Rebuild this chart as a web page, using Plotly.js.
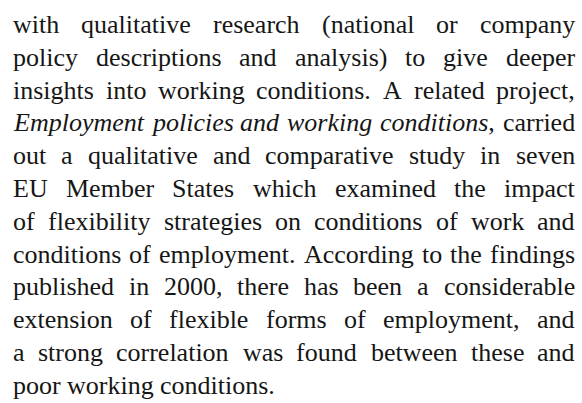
<!DOCTYPE html>
<html>
<head>
<meta charset="utf-8">
<script src="https://cdn.plot.ly/plotly-3.0.1.min.js"></script>
<style>html,body{margin:0;padding:0;background:#fff;}#chart{width:582px;height:403px;}</style>
</head>
<body>
<div id="chart"></div>
<script>
// Paragraph content (one entry per printed line)
const paragraphLines = [
  "with qualitative research (national or company",
  "policy descriptions and analysis) to give deeper",
  "insights into working conditions. A related project,",
  "Employment policies and working conditions, carried",
  "out a qualitative and comparative study in seven",
  "EU Member States which examined the impact",
  "of flexibility strategies on conditions of work and",
  "conditions of employment. According to the findings",
  "published in 2000, there has been a considerable",
  "extension of flexible forms of employment, and",
  "a strong correlation was found between these and",
  "poor working conditions."
];
// Italic words: line index -> number of leading italic words (trailing punctuation stays upright)
const italicLineIndex = [3];
const italicWordCount = [5];

const W = 582, H = 403;
const FONT_FAMILY = "Liberation Serif";
const FONT_SIZE = 26;
const LEFT = 12, RIGHT = 574;
const FIRST_BASELINE = 33, LINE_STEP = 32.8;
const TEXT_COLOR = "#161616";

const canvas = document.createElement("canvas");
const ctx = canvas.getContext("2d");
function setFont(italic) {
  ctx.font = (italic ? "italic " : "") + FONT_SIZE + "px '" + FONT_FAMILY + "'";
}
function splitPunct(w) {
  const m = w.match(/^(.*?)([,.;:]*)$/);
  return [m[1], m[2]];
}
function measure(word, italic) {
  if (!italic) { setFont(false); return ctx.measureText(word).width; }
  const [core, punct] = splitPunct(word);
  setFont(true); const a = ctx.measureText(core).width;
  setFont(false); const b = ctx.measureText(punct).width;
  return a + b;
}
setFont(false);
const spaceW = ctx.measureText(" ").width;

const annotations = [];
paragraphLines.forEach((line, li) => {
  const words = line.split(" ");
  const k = italicLineIndex.indexOf(li);
  const nItal = k >= 0 ? italicWordCount[k] : 0;
  const widths = words.map((w, wi) => measure(w, wi < nItal));
  const total = widths.reduce((a, b) => a + b, 0);
  const last = li === paragraphLines.length - 1;
  const gap = last ? spaceW : (RIGHT - LEFT - total) / (words.length - 1);
  let x = LEFT;
  const baseline = FIRST_BASELINE + li * LINE_STEP;
  words.forEach((w, wi) => {
    const ital = wi < nItal;
    let txt = w;
    if (ital) { const [core, punct] = splitPunct(w); txt = "<i>" + core + "</i>" + punct; }
    annotations.push({
      text: txt,
      xref: "paper", yref: "paper",
      x: x / W, y: 1 - (baseline - FONT_SIZE * 0.33) / H,
      xanchor: "left", yanchor: "middle",
      showarrow: false, borderpad: 0,
      font: {family: FONT_FAMILY, size: FONT_SIZE, color: TEXT_COLOR}
    });
    x += widths[wi] + gap;
  });
});

Plotly.newPlot("chart", [], {
  width: W, height: H,
  margin: {l: 0, r: 0, t: 0, b: 0, pad: 0},
  paper_bgcolor: "#ffffff", plot_bgcolor: "#ffffff",
  xaxis: {visible: false, range: [0, 1], fixedrange: true},
  yaxis: {visible: false, range: [0, 1], fixedrange: true},
  showlegend: false,
  annotations: annotations
}, {staticPlot: true, displayModeBar: false});
</script>
</body>
</html>
